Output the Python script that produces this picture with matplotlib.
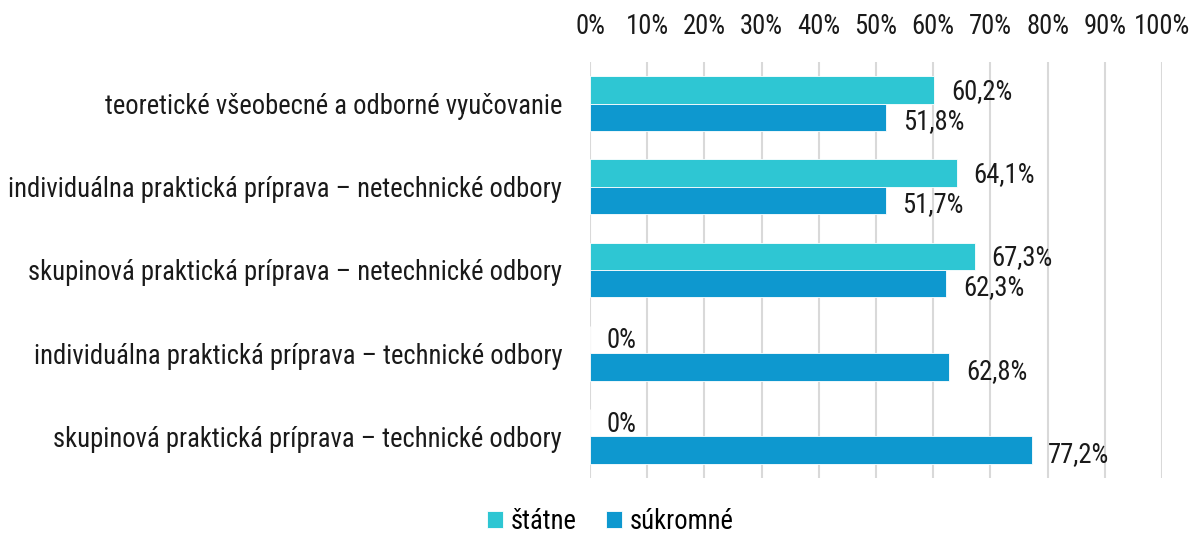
import matplotlib
matplotlib.use("Agg")
import matplotlib.pyplot as plt
from matplotlib import font_manager as fm
import numpy as np

categories = [
    "teoretické všeobecné a odborné vyučovanie",
    "individuálna praktická príprava – netechnické odbory",
    "skupinová praktická príprava – netechnické odbory",
    "individuálna praktická príprava – technické odbory",
    "skupinová praktická príprava – technické odbory",
]
statne = [60.2, 64.1, 67.3, 0.0, 0.0]
sukromne = [51.8, 51.7, 62.3, 62.8, 77.2]
series_names = ["štátne", "súkromné"]
colors = ["#2EC6D3", "#0E98CF"]

# pick a condensed family if one is installed
names = {f.name for f in fm.fontManager.ttflist}
family = "Roboto"
for cand in ["Roboto Condensed", "Liberation Sans Narrow", "DejaVu Sans Condensed"]:
    if cand in names:
        family = cand
        break
plt.rcParams["font.family"] = [family, "DejaVu Sans"]

FS = 19.2
fig = plt.figure(figsize=(11.92, 5.4), dpi=100)
ax = fig.add_axes([590 / 1192, 1 - 478 / 540, 572 / 1192, 416 / 540])

y = np.arange(len(categories))
h = 0.33
ax.barh(y - h / 2, statne, height=h, color=colors[0], edgecolor="white", linewidth=0.6, label=series_names[0])
ax.barh(y + h / 2, sukromne, height=h, color=colors[1], edgecolor="white", linewidth=0.6, label=series_names[1])

def fmt(v):
    return ("%.1f" % v).replace(".", ",") + "%" if v else "0%"

for i in range(len(categories)):
    ax.annotate(fmt(statne[i]), (statne[i], y[i] - h / 2), xytext=(12, -1), textcoords="offset points",
                va="center", ha="left", fontsize=FS, color="#1a1a1a")
    ax.annotate(fmt(sukromne[i]), (sukromne[i], y[i] + h / 2), xytext=(12, -3), textcoords="offset points",
                va="center", ha="left", fontsize=FS, color="#1a1a1a")

ax.set_xlim(0, 100)
ax.set_ylim(len(categories) - 0.5, -0.5)
ax.set_xticks(np.arange(0, 101, 10))
ax.set_xticklabels([f"{t}%" for t in range(0, 101, 10)])
ax.xaxis.tick_top()
ax.tick_params(axis="x", length=0, pad=16, labelsize=FS, colors="#1a1a1a")
ax.set_yticks(y)
ax.set_yticklabels(categories)
ax.tick_params(axis="y", length=0, pad=20, labelsize=FS, colors="#1a1a1a")
ax.grid(axis="x", color="#d9d9d9", linewidth=1.5)
ax.set_axisbelow(True)
for s in ax.spines.values():
    s.set_visible(False)

fig.legend(loc="lower center", bbox_to_anchor=(0.512, -0.035), ncol=2, frameon=False, fontsize=FS,
           handlelength=0.6, handleheight=0.6, handletextpad=0.3, columnspacing=1.1)

fig.savefig("out.png", dpi=100)
